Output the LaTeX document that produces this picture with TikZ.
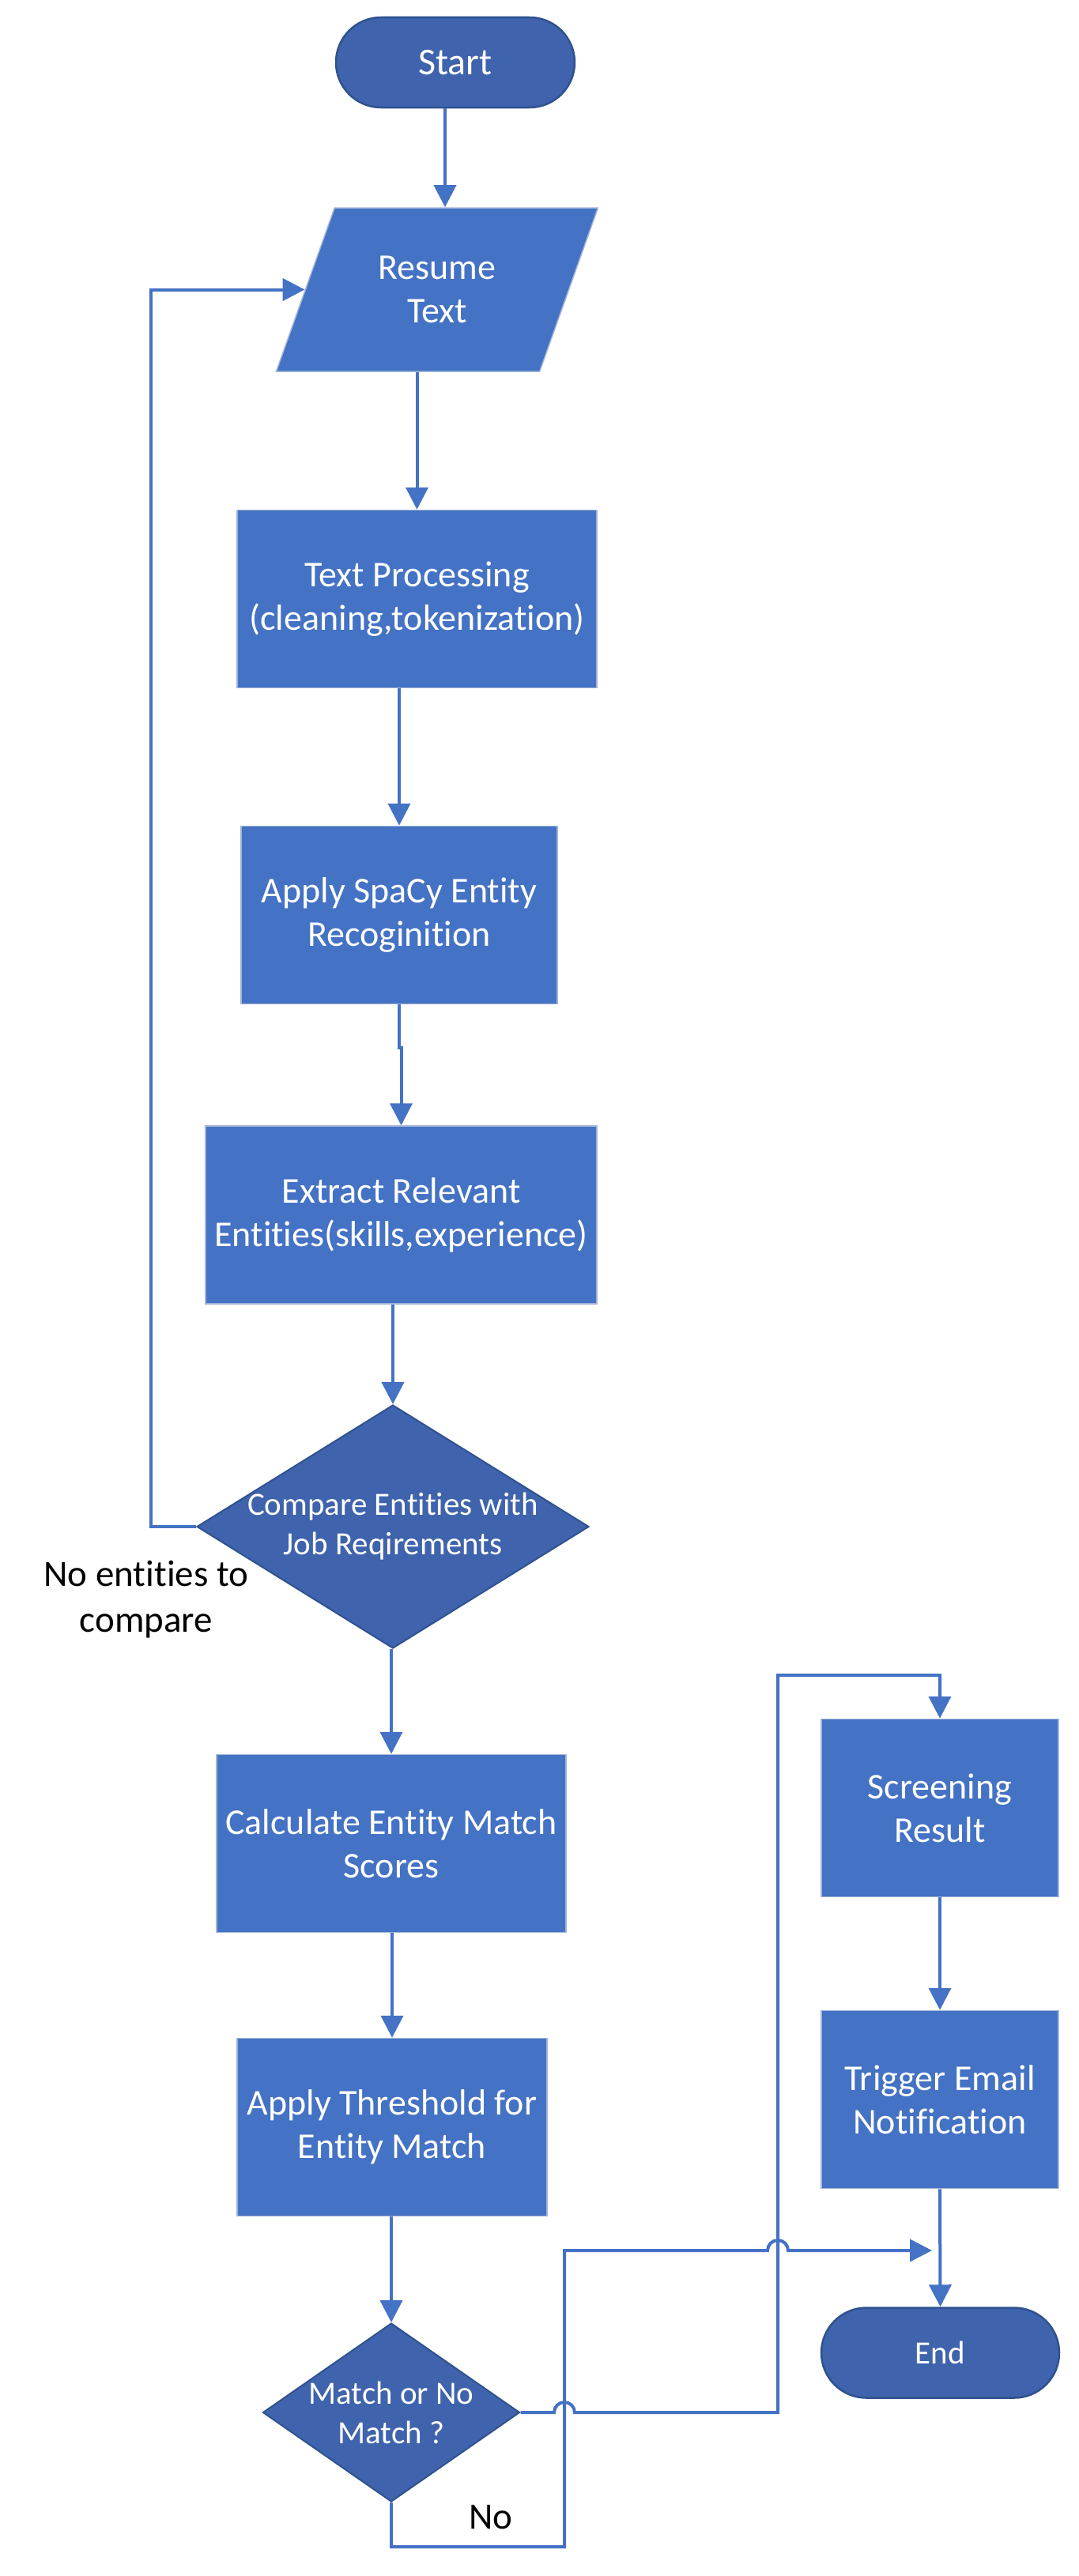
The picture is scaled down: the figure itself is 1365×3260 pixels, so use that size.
\documentclass[tikz,border=0pt]{standalone}
\usepackage{fontspec}
\setmainfont{Carlito}[Ligatures=NoCommon]
\usetikzlibrary{shapes.geometric,arrows.meta,calc}
\definecolor{boxblue}{HTML}{4472C4}
\definecolor{darkblue}{HTML}{3F63AC}
\definecolor{edgeblue}{HTML}{2F528F}
\definecolor{boxedge}{HTML}{A3B4D8}
\begin{document}
\begin{tikzpicture}[x=1pt,y=-1pt,
  txt/.style={font=\fontsize{46}{55}\selectfont, text=white, align=center},
  dtxt/.style={font=\fontsize{41}{50}\selectfont, text=white, align=center},
  procbox/.style={txt, rectangle, fill=boxblue, draw=boxedge, line width=1.5pt, inner sep=0pt},
  termbox/.style={rectangle, rounded corners=57pt, fill=darkblue, draw=edgeblue, line width=2.5pt, inner sep=0pt, minimum height=114pt, text=white, align=center},
  decbox/.style={diamond, fill=darkblue, draw=edgeblue, line width=2pt, inner sep=0pt},
  iobox/.style={txt, trapezium, trapezium left angle=63.5, trapezium right angle=116.5, trapezium stretches=true, fill=boxblue, draw=boxedge, line width=1.5pt, inner sep=0pt},
  arr/.style={draw=boxblue, line width=4pt, -{Triangle[length=28pt,width=28pt]}},
  lbl/.style={font=\fontsize{47}{58}\selectfont, text=black, align=center}
]
\useasboundingbox (0,0) rectangle (1365,3260);

% nodes
\node[termbox, minimum width=302pt, font=\fontsize{48}{58}\selectfont] (start) at (576,79) {Start};
\node[iobox, minimum width=408pt, minimum height=207pt] (resume) at (553,366.5) {Resume\\Text};
\node[procbox, minimum width=455pt, minimum height=225pt] (tp) at (527.5,758) {Text Processing\\(cleaning,tokenization)};
\node[procbox, minimum width=400pt, minimum height=225pt] (spacy) at (505,1158) {Apply SpaCy Entity\\Recoginition};
\node[procbox, minimum width=495pt, minimum height=225pt] (extract) at (507.5,1537.5) {Extract Relevant\\Entities(skills,experience)};
\node[decbox, minimum width=496pt, minimum height=308pt] (cmp) at (497,1932) {};
\node[dtxt] (cmptxt) at (cmp) {Compare Entities with\\Job Reqirements};
\node[procbox, minimum width=442pt, minimum height=225pt] (calc) at (495,2333) {Calculate Entity Match\\Scores};
\node[procbox, minimum width=392pt, minimum height=225pt] (thr) at (496,2692) {Apply Threshold for\\Entity Match};
\node[decbox, minimum width=325pt, minimum height=226pt] (match) at (495,3053) {};
\node[dtxt] (matchtxt) at (match) {Match or No\\Match ?};
\node[procbox, minimum width=300pt, minimum height=225pt] (scr) at (1189,2288) {Screening\\Result};
\node[procbox, minimum width=300pt, minimum height=225pt] (trig) at (1189,2657) {Trigger Email\\Notification};
\node[termbox, minimum width=301pt, font=\fontsize{41}{50}\selectfont] (endn) at (1189.5,2977.5) {End};

% labels
\node[lbl] (nolbl) at (185,2024) {No entities to\\compare};
\node[lbl] (nolbl2) at (621,3186) {No};

% helper coordinates
\coordinate (s1) at ([xshift=-13pt]start.south);
\coordinate (hopA) at (701,3053);
\coordinate (riser) at (984,2120);
\coordinate (nocorner) at (714,2848);
\coordinate (hopB) at (971,2848);
\coordinate (noend) at (1179,2848);

% connectors
\draw[arr] (s1) -- (s1 |- resume.north);
\draw[arr] (tp.north |- resume.south) -- (tp.north);
\draw[arr] (spacy.north |- tp.south) -- (spacy.north);
\draw[arr] (spacy.south) -- ++(0,55) -| (extract.north);
\draw[arr] (extract.south -| cmp.north) -- (cmp.north);
\draw[arr] (cmp.west) -- ++(-57,0) |- (resume.west);
\draw[arr] (calc.north |- cmp.south) -- (calc.north);
\draw[arr] (thr.north |- calc.south) -- (thr.north);
\draw[arr] (match.north |- thr.south) -- (match.north);
\draw[arr] (scr.south) -- (trig.north);
\draw[arr] (trig.south) -- (endn.north);
\draw[arr] (match.east) -- (hopA) arc[start angle=180,end angle=0,radius=13pt] -- (riser |- match.east) -- (riser) -| (scr.north);
\draw[arr] (match.south) -- ++(0,56) -| (nocorner) -- (hopB) arc[start angle=180,end angle=0,radius=13pt] -- (noend);
\end{tikzpicture}
\end{document}
